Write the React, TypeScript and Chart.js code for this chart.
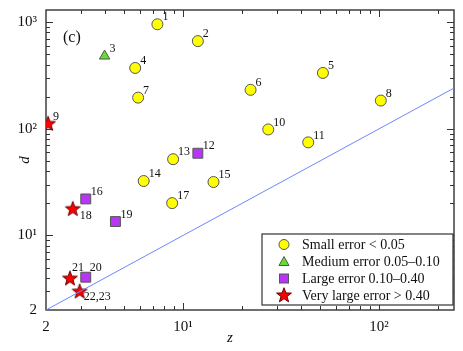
import React, { useEffect, useRef } from 'react';
import { Chart, registerables } from 'chart.js';
Chart.register(...registerables);

// ---- data ----
const smallLabels = ['1', '2', '4', '5', '6', '7', '8', '10', '11', '13', '14', '15', '17'];
const smallZ = [7.4, 11.9, 5.7, 51.7, 22.1, 5.9, 102, 27.2, 43.5, 8.9, 6.3, 14.3, 8.8];
const smallD = [955, 664, 372, 334, 232, 196, 184, 98.6, 74.6, 51.9, 32.4, 31.7, 20.1];

const mediumLabels = ['3'];
const mediumZ = [3.98];
const mediumD = [481];

const largeLabels = ['12', '16', '19', '20'];
const largeZ = [11.9, 3.19, 4.52, 3.19];
const largeD = [59, 22, 13.5, 4.06];

const vlargeLabels = ['9', '18', '21', '22,23'];
const vlargeZ = [2.05, 2.74, 2.65, 2.97];
const vlargeD = [112, 17.8, 3.97, 3.0];

const lineZ = [2, 241];

const legendLabels = [
  'Small error < 0.05',
  'Medium error 0.05\u20130.10',
  'Large error 0.10\u20130.40',
  'Very large error > 0.40',
];

const xTickValues = [2, 10, 100];
const yTickValues = [2, 10, 100, 1000];
const xRange = [2, 241];
const yRange = [2, 1300];

// ---- styles ----
const SERIF = '"Liberation Serif", "DejaVu Serif", serif';
const COL_SMALL = '#ffff00';
const COL_MED = '#66dd33';
const COL_LARGE = '#b935f5';
const COL_VL = '#ff0000';
const EDGE = '#555555';

const labelOffsets: Record<string, [number, number, CanvasTextAlign]> = {
  '18': [7, 7, 'left'],
  '22,23': [4, 6, 'left'],
  '21': [2, -10, 'left'],
  '20': [4, -9, 'left'],
};

function makeStar(): HTMLCanvasElement {
  const c = document.createElement('canvas');
  c.width = 18;
  c.height = 18;
  const g = c.getContext('2d')!;
  const cx = 9, cy = 9.5, ro = 7.8, ri = 3.2;
  g.beginPath();
  for (let i = 0; i < 10; i++) {
    const r = i % 2 === 0 ? ro : ri;
    const a = -Math.PI / 2 + (i * Math.PI) / 5;
    const px = cx + r * Math.cos(a);
    const py = cy + r * Math.sin(a);
    if (i === 0) g.moveTo(px, py);
    else g.lineTo(px, py);
  }
  g.closePath();
  g.fillStyle = COL_VL;
  g.fill();
  g.lineWidth = 1;
  g.strokeStyle = '#660000';
  g.stroke();
  return c;
}

function pts(z: number[], d: number[]) {
  return z.map((v, i) => ({ x: v, y: d[i] }));
}

function superscript(n: number): string {
  const map: Record<string, string> = { '0': '\u2070', '1': '\u00b9', '2': '\u00b2', '3': '\u00b3' };
  return String(n).split('').map((c) => map[c] || c).join('');
}

export default function App() {
  const ref = useRef<HTMLCanvasElement>(null);

  useEffect(() => {
    const star = makeStar();
    const allLabels = [smallLabels, mediumLabels, largeLabels, vlargeLabels];

    const framePlugin = {
      id: 'frame',
      beforeDatasetsDraw(chart: any) {
        const { ctx, chartArea: a, scales } = chart;
        ctx.save();
        ctx.strokeStyle = '#222';
        ctx.lineWidth = 1.3;
        ctx.strokeRect(a.left, a.top, a.right - a.left, a.bottom - a.top);
        ctx.lineWidth = 1;
        ctx.strokeStyle = '#333';
        const xs = scales.x, ys = scales.y;
        const drawX = (v: number, len: number) => {
          const p = Math.round(xs.getPixelForValue(v)) + 0.5;
          if (p <= a.left + 1 || p >= a.right - 1) return;
          ctx.beginPath();
          ctx.moveTo(p, a.bottom); ctx.lineTo(p, a.bottom - len);
          ctx.moveTo(p, a.top); ctx.lineTo(p, a.top + len);
          ctx.stroke();
        };
        const drawY = (v: number, len: number) => {
          const p = Math.round(ys.getPixelForValue(v)) + 0.5;
          if (p <= a.top + 1 || p >= a.bottom - 1) return;
          ctx.beginPath();
          ctx.moveTo(a.left, p); ctx.lineTo(a.left + len, p);
          ctx.moveTo(a.right, p); ctx.lineTo(a.right - len, p);
          ctx.stroke();
        };
        for (const dec of [1, 10, 100, 1000]) {
          for (let k = 1; k <= 9; k++) {
            const v = dec * k;
            const len = k === 1 ? 7 : 4;
            if (v >= xRange[0] && v <= xRange[1]) drawX(v, len);
            if (v >= yRange[0] && v <= yRange[1]) drawY(v, len);
          }
        }
        ctx.restore();
      },
      afterDatasetsDraw(chart: any) {
        const { ctx, chartArea: a } = chart;
        ctx.save();
        // point labels
        ctx.fillStyle = '#111';
        ctx.font = `12px ${SERIF}`;
        ctx.textBaseline = 'middle';
        for (let di = 1; di <= 4; di++) {
          const meta = chart.getDatasetMeta(di);
          const labels = allLabels[di - 1];
          meta.data.forEach((el: any, i: number) => {
            const lab = labels[i];
            const off = labelOffsets[lab] || [5, -7, 'left'];
            ctx.textAlign = off[2];
            ctx.fillText(lab, el.x + off[0], el.y + off[1]);
          });
        }
        // panel tag
        ctx.font = `16px ${SERIF}`;
        ctx.textAlign = 'left';
        ctx.fillText('(c)', a.left + 17, a.top + 28);

        // axis titles
        ctx.font = `italic 15px ${SERIF}`;
        ctx.textAlign = 'center';
        ctx.fillText('z', 230, 338);
        ctx.save();
        ctx.translate(25, (a.top + a.bottom) / 2);
        ctx.rotate(-Math.PI / 2);
        ctx.fillText('d', 0, 0);
        ctx.restore();

        // legend
        const lx = 262, ly = 234, lw = 191, lh = 71;
        ctx.fillStyle = '#fff';
        ctx.fillRect(lx, ly, lw, lh);
        ctx.strokeStyle = '#333';
        ctx.lineWidth = 1.2;
        ctx.strokeRect(lx, ly, lw, lh);
        ctx.font = `14px ${SERIF}`;
        ctx.textAlign = 'left';
        const rowY = [ly + 10.5, ly + 27.5, ly + 44.5, ly + 61.5];
        const mx = lx + 22;
        ctx.lineWidth = 1;
        legendLabels.forEach((t, i) => {
          const y = rowY[i];
          ctx.strokeStyle = EDGE;
          if (i === 0) {
            ctx.beginPath(); ctx.arc(mx, y, 5, 0, Math.PI * 2);
            ctx.fillStyle = COL_SMALL; ctx.fill(); ctx.stroke();
          } else if (i === 1) {
            ctx.beginPath();
            ctx.moveTo(mx, y - 5); ctx.lineTo(mx + 5, y + 4); ctx.lineTo(mx - 5, y + 4); ctx.closePath();
            ctx.fillStyle = COL_MED; ctx.fill(); ctx.stroke();
          } else if (i === 2) {
            ctx.fillStyle = COL_LARGE;
            ctx.fillRect(mx - 4.5, y - 4.5, 9, 9);
            ctx.strokeRect(mx - 4.5, y - 4.5, 9, 9);
          } else {
            ctx.drawImage(star, mx - 9, y - 9.5);
          }
          ctx.fillStyle = '#111';
          ctx.fillText(t, lx + 40, y + 1);
        });
        ctx.restore();
      },
    };

    const chart = new Chart(ref.current!, {
      type: 'scatter',
      data: {
        datasets: [
          {
            type: 'line',
            label: 'd = z',
            data: pts(lineZ, lineZ),
            borderColor: '#6f86ff',
            borderWidth: 1,
            pointRadius: 0,
            fill: false,
          } as any,
          {
            label: legendLabels[0],
            data: pts(smallZ, smallD),
            pointStyle: 'circle',
            pointRadius: 5.5,
            backgroundColor: COL_SMALL,
            borderColor: EDGE,
            borderWidth: 1,
          },
          {
            label: legendLabels[1],
            data: pts(mediumZ, mediumD),
            pointStyle: 'triangle',
            pointRadius: 6,
            backgroundColor: COL_MED,
            borderColor: EDGE,
            borderWidth: 1,
          },
          {
            label: legendLabels[2],
            data: pts(largeZ, largeD),
            pointStyle: 'rect',
            pointRadius: 7,
            backgroundColor: COL_LARGE,
            borderColor: EDGE,
            borderWidth: 1,
          },
          {
            label: legendLabels[3],
            data: pts(vlargeZ, vlargeD),
            pointStyle: star,
            pointRadius: 8,
            backgroundColor: COL_VL,
            borderColor: '#660000',
          },
        ],
      },
      options: {
        animation: false,
        responsive: true,
        maintainAspectRatio: false,
        layout: { padding: { top: 7, right: 6, left: 0, bottom: 0 } },
        plugins: { legend: { display: false }, tooltip: { enabled: false } },
        scales: {
          x: {
            type: 'logarithmic',
            min: xRange[0],
            max: xRange[1],
            grid: { display: false },
            border: { display: false },
            afterFit: (s: any) => { s.height = 41; },
            afterBuildTicks: (s: any) => { s.ticks = xTickValues.map((v) => ({ value: v })); },
            ticks: {
              padding: 0,
              color: '#111',
              font: { family: SERIF, size: 15 },
              maxRotation: 0,
              autoSkip: false,
              callback: (v: any) => (v === 2 ? '2' : '10' + superscript(Math.round(Math.log10(v)))),
            },
          },
          y: {
            type: 'logarithmic',
            min: yRange[0],
            max: yRange[1],
            grid: { display: false },
            border: { display: false },
            afterFit: (s: any) => { s.width = 46; },
            afterBuildTicks: (s: any) => { s.ticks = yTickValues.map((v) => ({ value: v })); },
            ticks: {
              padding: 1,
              color: '#111',
              font: { family: SERIF, size: 15 },
              autoSkip: false,
              callback: (v: any) => (v === 2 ? '2' : '10' + superscript(Math.round(Math.log10(v)))),
            },
          },
        },
      },
      plugins: [framePlugin],
    });
    return () => chart.destroy();
  }, []);

  return (
    <div style={{ position: 'absolute', left: 0, top: 0, width: 463, height: 351, background: '#fff' }}>
      <canvas ref={ref} />
    </div>
  );
}
